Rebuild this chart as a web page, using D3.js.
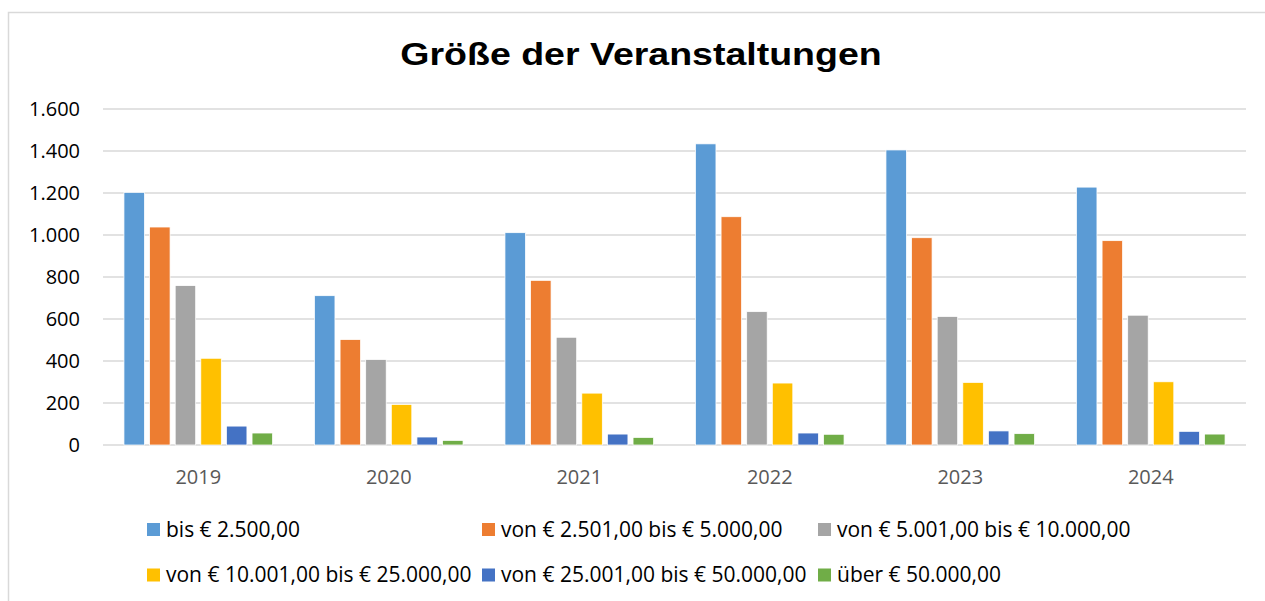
<!DOCTYPE html>
<html>
<head>
<meta charset="utf-8">
<script src="https://d3js.org/d3.v7.min.js"></script>
<style>
  html, body { margin: 0; padding: 0; background: #fff; }
</style>
</head>
<body>
<div id="chart"></div>
<script>
// data
var years = ["2019", "2020", "2021", "2022", "2023", "2024"];
var seriesNames = [
  "bis € 2.500,00",
  "von € 2.501,00 bis € 5.000,00",
  "von € 5.001,00 bis € 10.000,00",
  "von € 10.001,00 bis € 25.000,00",
  "von € 25.001,00 bis € 50.000,00",
  "über € 50.000,00"
];
var seriesColors = ["#5b9bd5", "#ed7d31", "#a5a5a5", "#ffc000", "#4472c4", "#70ad47"];
var bis2500   = [1203, 711, 1011, 1434, 1405, 1228];
var bis5000   = [1038, 502, 784, 1087, 987, 973];
var bis10000  = [759, 407, 513, 635, 612, 618];
var bis25000  = [413, 193, 247, 295, 298, 301];
var bis50000  = [90, 38, 52, 57, 67, 65];
var ueber50000 = [57, 22, 36, 51, 54, 52];
var yTicks = [0, 200, 400, 600, 800, 1000, 1200, 1400, 1600];
var chartTitle = "Größe der Veranstaltungen";

var allSeries = [bis2500, bis5000, bis10000, bis25000, bis50000, ueber50000];

const width = 1265;
const height = 601;
var margin = {top: 109, right: 19, bottom: 156, left: 103};

var svg = d3.select("#chart")
  .append("svg")
  .attr("width", width)
  .attr("height", height);

// outer chart frame
svg.append("rect")
  .attr("x", 8.5).attr("y", 12.5)
  .attr("width", width + 20).attr("height", height + 20)
  .attr("fill", "none")
  .attr("stroke", "#d9d9d9")
  .attr("stroke-width", 1.5);

// title: the source is stretched sideways, so scale the text in x
svg.append("text")
  .attr("transform", "translate(641,65) scale(1.23,1)")
  .attr("text-anchor", "middle")
  .attr("font-family", "Liberation Sans, Arial, sans-serif")
  .attr("font-weight", "bold")
  .attr("font-size", 30.5)
  .attr("fill", "#000")
  .text(chartTitle);

var x0 = d3.scaleBand()
  .domain(years)
  .range([margin.left, width - margin.right])
  .paddingInner(0.22)
  .paddingOuter(0.11);

var x1 = d3.scaleBand()
  .domain(d3.range(seriesNames.length))
  .range([0, x0.bandwidth()])
  .paddingInner(0.2);

var y = d3.scaleLinear()
  .domain([0, 1600])
  .range([height - margin.bottom, margin.top]);

// gridlines
svg.append("g")
  .selectAll("line")
  .data(yTicks)
  .enter().append("line")
  .attr("x1", margin.left)
  .attr("x2", width - margin.right)
  .attr("y1", function(d){ return y(d); })
  .attr("y2", function(d){ return y(d); })
  .attr("stroke", "#d9d9d9")
  .attr("stroke-width", 1.5);

// y axis labels
var yAxis = svg.append("g")
  .attr("transform", "translate(" + margin.left + ",0)")
  .call(d3.axisLeft(y).tickValues(yTicks).tickSize(0).tickPadding(23)
    .tickFormat(function(d){ return d3.format(",")(d).replace(/,/g, "."); }));
yAxis.select(".domain").remove();
yAxis.selectAll("text")
  .attr("font-family", "Open Sans, sans-serif")
  .attr("font-size", 20)
  .attr("fill", "#000");

// bars
var groups = svg.append("g")
  .selectAll("g")
  .data(years)
  .enter().append("g")
  .attr("transform", function(d){ return "translate(" + x0(d) + ",0)"; });

groups.selectAll("rect")
  .data(function(d, i){ return allSeries.map(function(s, k){ return {k: k, v: s[i]}; }); })
  .enter().append("rect")
  .attr("x", function(d){ return x1(d.k); })
  .attr("y", function(d){ return y(d.v); })
  .attr("width", x1.bandwidth())
  .attr("height", function(d){ return y(0) - y(d.v); })
  .attr("fill", function(d){ return seriesColors[d.k]; })
  .attr("stroke", "#fff")
  .attr("stroke-width", 0.75);

// x axis labels
var xAxis = svg.append("g")
  .attr("transform", "translate(0," + y(0) + ")")
  .call(d3.axisBottom(x0).tickSize(0).tickPadding(25));
xAxis.select(".domain").remove();
xAxis.selectAll("text")
  .attr("font-family", "Open Sans, sans-serif")
  .attr("font-size", 20)
  .attr("fill", "#595959");

// legend, 3 columns x 2 rows
var legendCols = [147, 482, 818];
var legendRows = [529.5, 575];
var legend = svg.append("g")
  .selectAll("g")
  .data(seriesNames)
  .enter().append("g")
  .attr("transform", function(d, i){
    return "translate(" + legendCols[i % 3] + "," + legendRows[Math.floor(i / 3)] + ")";
  });
legend.append("rect")
  .attr("x", 0).attr("y", -6.5)
  .attr("width", 13).attr("height", 13)
  .attr("fill", function(d, i){ return seriesColors[i]; });
legend.append("text")
  .attr("x", 19)
  .attr("y", 0)
  .attr("dy", "0.35em")
  .attr("font-family", "Open Sans, sans-serif")
  .attr("font-size", 21)
  .attr("fill", "#000")
  .text(function(d){ return d; });
</script>
</body>
</html>
